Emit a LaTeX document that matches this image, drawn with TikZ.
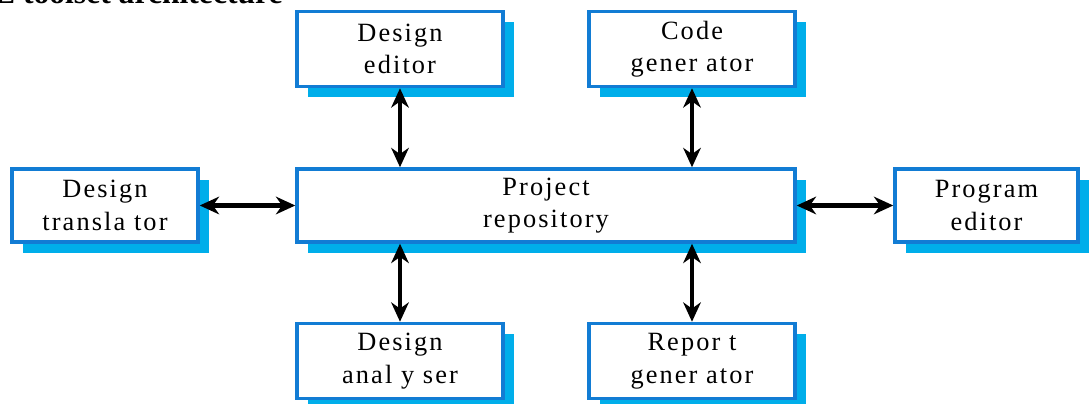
\documentclass[tikz,border=0pt]{standalone}
\usepackage{fontspec}
\setmainfont{Liberation Serif}
\newfontfamily\boxfont[LetterSpace=8]{Liberation Serif}
\usetikzlibrary{arrows.meta,shadows}

\definecolor{toolBorderColour}{RGB}{18,124,212}
\definecolor{toolShadowColour}{RGB}{0,174,234}
\tikzset{
	toolbox/.style={draw=toolBorderColour,line width=2pt,fill=white,align=center,
		font=\boxfont\fontsize{15}{18.5}\selectfont,inner sep=0pt,
		general shadow={fill=toolShadowColour,shadow xshift=6pt,shadow yshift=-6pt}},
	smallbox/.style={toolbox,minimum width=4.12cm,minimum height=1.5cm},
	link/.style={>={Stealth[length=11pt,width=10pt,inset=3.5pt]},<->,line width=2.6pt,black}
}

\begin{document}
\begin{tikzpicture}[x=0.02cm,y=-0.02cm]
\useasboundingbox (0,0) rectangle (1089,404);
\node[anchor=base east,inner sep=0pt,font=\bfseries\fontsize{18}{20}\selectfont] (title) at (283,4) {E toolset architecture};
% tools round the repository
\node[smallbox] (design editor) at (400,49) {Design\\editor};
\node[smallbox] (code generator) at (692,49) {Code\\gener ator};
\node[toolbox,minimum width=3.72cm,minimum height=1.46cm] (design translator) at (105,205.5) {Design\\transla tor};
\node[toolbox,minimum width=9.96cm,minimum height=1.46cm] (repository) at (546,205.5) {Project\\repository};
\node[toolbox,minimum width=3.66cm,minimum height=1.46cm] (program editor) at (986.5,205.5) {Program\\editor};
\node[smallbox] (design analyser) at (400,361) {Design\\anal y ser};
\node[smallbox] (report generator) at (692,361) {Repor t\\gener ator};
\draw[link] (design editor.south) -- (design editor.south |- repository.north);
\draw[link] (code generator.south) -- (code generator.south |- repository.north);
\draw[link] (design analyser.north) -- (design analyser.north |- repository.south);
\draw[link] (report generator.north) -- (report generator.north |- repository.south);
\draw[link] (design translator.east) -- (repository.west);
\draw[link] (repository.east) -- (program editor.west);
\end{tikzpicture}
\end{document}
